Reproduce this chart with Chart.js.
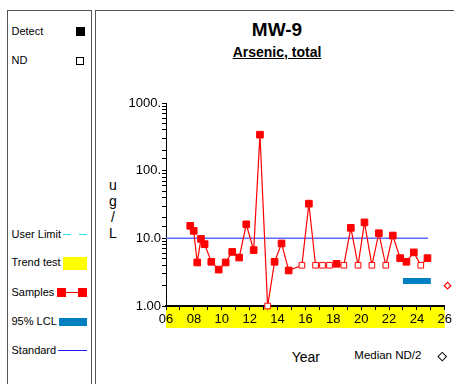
<!DOCTYPE html>
<html>
<head>
<meta charset="utf-8">
<script src="https://cdn.jsdelivr.net/npm/chart.js@4/dist/chart.umd.min.js"></script>
<style>
  html, body { margin: 0; padding: 0; background: #fff; }
  body { width: 454px; height: 384px; position: relative; overflow: hidden;
         font-family: "Liberation Sans", Arial, sans-serif; color: #000; }
  .abs { position: absolute; line-height: 1; white-space: nowrap; }
  .panel { position: absolute; border: 1.5px solid #555; border-bottom: none; box-sizing: border-box; }
  .lg { font-size: 11px; left: 11.5px; }
  canvas { position: absolute; left: 0; top: 0; }
</style>
</head>
<body>
<!-- side legend panel -->
<div class="panel" style="left:7px; top:10px; width:85px; height:380px;"></div>
<!-- main chart panel -->
<div class="panel" style="left:95px; top:10px; width:370px; height:380px; border-right:none;"></div>

<div class="abs lg" style="top:25.7px;">Detect</div>
<div class="abs" style="left:76px; top:27px; width:9px; height:9px; background:#000;"></div>
<div class="abs lg" style="top:55.4px;">ND</div>
<div class="abs" style="left:76px; top:56.5px; width:8px; height:8px; border:1px solid #000; box-sizing:border-box;"></div>

<div class="abs lg" style="top:229px;">User Limit</div>
<div class="abs" style="left:63px; top:233.5px; width:8px; height:1.5px; background:#1ee0f0;"></div>
<div class="abs" style="left:79px; top:233.5px; width:8px; height:1.5px; background:#1ee0f0;"></div>

<div class="abs lg" style="top:257.4px;">Trend test</div>
<div class="abs" style="left:63px; top:256.5px; width:24px; height:13px; background:#ffff00;"></div>

<div class="abs lg" style="top:287.4px;">Samples</div>
<div class="abs" style="left:57px; top:292px; width:30px; height:1.2px; background:#ff0000;"></div>
<div class="abs" style="left:57px; top:288px; width:9px; height:9px; background:#ff0000;"></div>
<div class="abs" style="left:78px; top:288px; width:9px; height:9px; background:#ff0000;"></div>

<div class="abs lg" style="top:315.7px;">95% LCL</div>
<div class="abs" style="left:59px; top:317.5px; width:28px; height:8px; background:#0080c0;"></div>

<div class="abs lg" style="top:344.7px;">Standard</div>
<div class="abs" style="left:58px; top:349.5px; width:29px; height:1.3px; background:#1a1aff;"></div>

<!-- titles -->
<div class="abs" style="left:177px; width:200px; text-align:center; top:20px; font-size:19px; font-weight:bold;">MW-9</div>
<div class="abs" style="left:177px; width:200px; text-align:center; top:44.9px; font-size:14px; font-weight:bold; text-decoration:underline;">Arsenic, total</div>

<!-- vertical unit label -->
<div class="abs" style="left:106px; width:14px; text-align:center; top:177px; font-size:14px; line-height:16px; white-space:normal;">u<br>g<br>/<br>L</div>

<div class="abs" style="left:291.7px; top:349.9px; font-size:14px;">Year</div>
<div class="abs" style="left:354.3px; top:349.6px; font-size:11.5px;">Median ND/2</div>
<div class="abs" style="left:438.5px; top:352.5px; width:4.5px; height:4.5px; border:1px solid #000; transform:rotate(45deg);"></div>

<canvas id="c" width="454" height="384"></canvas>

<script>
// Sampling dates (decimal years) and arsenic results, ug/L
const sampleYears = [2007.74, 2007.99, 2008.24, 2008.51, 2008.77, 2009.25, 2009.78, 2010.28, 2010.75,
  2011.25, 2011.76, 2012.29, 2012.74, 2013.29, 2013.79, 2014.29, 2014.80, 2015.75, 2016.25,
  2016.73, 2017.23, 2017.73, 2018.24, 2018.76, 2019.26, 2019.78, 2020.24, 2020.77, 2021.27,
  2021.77, 2022.27, 2022.80, 2023.25, 2023.78, 2024.28, 2024.76];
const sampleValues = [15.3, 12.9, 4.4, 9.8, 8.2, 4.5, 3.45, 4.4, 6.3,
  5.2, 16.1, 6.7, 340, 1.0, 4.5, 8.4, 3.35, 4.0, 32.5,
  4.0, 4.0, 4.0, 4.2, 4.0, 14.3, 4.0, 17.2, 4.0, 11.9,
  4.0, 11.0, 5.1, 4.5, 6.2, 4.0, 5.1];
// true = non-detect (reported at the detection limit)
const nonDetect = [false, false, false, false, false, false, false, false, false,
  false, false, false, false, true, false, false, false, true, false,
  true, true, true, false, true, false, true, false, true, false,
  true, false, false, false, false, true, false];

const standardValue = 10;
const standardYears = [2006, 2024.8];
const lclValue = 2.35;
const lclYears = [2023, 2025];
const medianNdHalf = 2.0;
const medianNdYear = 2026.2;

const yTickLabels = { 1: '1.00', 10: '10.0', 100: '100.', 1000: '1000.' };

const samplePoints = sampleYears.map((x, i) => ({ x: x, y: sampleValues[i] }));

// Yellow trend-test band under the time axis
const trendBand = {
  id: 'trendBand',
  beforeDraw(chart) {
    const { ctx, chartArea, scales } = chart;
    const x0 = scales.x.getPixelForValue(2006);
    const x1 = scales.x.getPixelForValue(2026);
    ctx.save();
    ctx.fillStyle = '#ffff00';
    ctx.fillRect(x0, chartArea.bottom, x1 - x0, 22);
    ctx.restore();
  }
};

new Chart(document.getElementById('c'), {
  type: 'line',
  data: {
    datasets: [
      {
        label: 'Samples',
        data: samplePoints,
        borderColor: '#ff0000',
        borderWidth: 1.2,
        pointStyle: 'rect',
        pointRadius: nonDetect.map(n => n ? 4 : 4.7),
        pointBackgroundColor: nonDetect.map(n => n ? '#ffffff' : '#ff0000'),
        pointBorderColor: '#ff0000',
        pointBorderWidth: 1,
        tension: 0,
        clip: false,
        order: 0
      },
      {
        label: 'Standard',
        data: standardYears.map(x => ({ x: x, y: standardValue })),
        borderColor: '#5c6cff',
        borderWidth: 1.5,
        pointRadius: 0,
        order: 2
      },
      {
        label: '95% LCL',
        data: lclYears.map(x => ({ x: x, y: lclValue })),
        borderColor: '#0080c0',
        borderWidth: 6,
        borderCapStyle: 'butt',
        pointRadius: 0,
        order: 1
      },
      {
        label: 'Median ND/2',
        data: [{ x: medianNdYear, y: medianNdHalf }],
        showLine: false,
        pointStyle: 'rectRot',
        pointRadius: 3.3,
        pointBackgroundColor: '#ffffff',
        pointBorderColor: '#ff0000',
        pointBorderWidth: 1.2,
        clip: false,
        order: 0
      }
    ]
  },
  options: {
    responsive: false,
    animation: false,
    layout: { padding: { left: 0, right: 9, top: 103, bottom: 56 } },
    plugins: { legend: { display: false }, tooltip: { enabled: false }, title: { display: false } },
    scales: {
      x: {
        type: 'linear',
        min: 2006,
        max: 2026,
        afterFit(s) { s.height = 22; },
        border: { color: '#000', width: 2 },
        grid: { drawOnChartArea: false, drawTicks: true, tickLength: 4, color: '#000', lineWidth: 1 },
        ticks: {
          stepSize: 1,
          autoSkip: false,
          maxRotation: 0,
          padding: 2,
          color: '#000',
          font: { family: 'Liberation Sans', size: 13 },
          callback: v => (v % 2 === 0 ? String(v - 2000).padStart(2, '0') : '')
        }
      },
      y: {
        type: 'logarithmic',
        min: 1,
        max: 1000,
        afterFit(s) { s.width = 166; },
        border: { color: '#000', width: 1 },
        grid: { drawOnChartArea: false, drawTicks: true, tickLength: 4, color: '#000', lineWidth: 1 },
        ticks: {
          autoSkip: false,
          padding: 1,
          color: '#000',
          font: { family: 'Liberation Sans', size: 13 },
          callback: v => (yTickLabels[v] !== undefined ? yTickLabels[v] : '')
        }
      }
    }
  },
  plugins: [trendBand]
});
</script>
</body>
</html>
